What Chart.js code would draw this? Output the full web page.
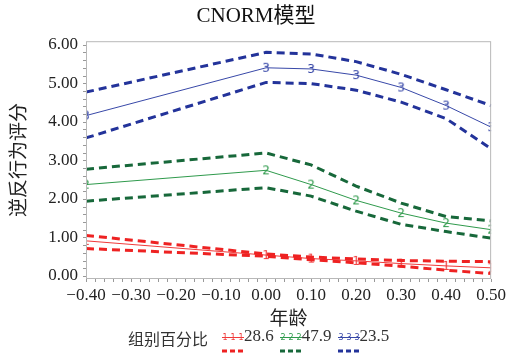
<!DOCTYPE html>
<html>
<head>
<meta charset="utf-8">
<script src="https://cdn.jsdelivr.net/npm/chart.js@4"></script>
<style>
  body { margin: 0; background: #fff; }
  #wrap { position: relative; width: 506px; height: 360px; }
  #legend { position: absolute; left: 128px; top: 326px; height: 30px;
    font-family: "Noto Sans CJK SC", sans-serif; font-size: 16px; color: #333;
    display: flex; align-items: flex-start; white-space: nowrap; }
  #legend .num { font-family: "Liberation Serif", serif; font-size: 17px; margin-right: 6px; }
  #legend canvas { margin-top: 3px; }
</style>
</head>
<body>
<div id="wrap">
  <canvas id="chart" width="506" height="360"></canvas>
  <div id="legend"></div>
</div>
<script>
const ages = [-0.4, 0, 0.1, 0.2, 0.3, 0.4, 0.5];
const xTicks = [-0.4, -0.3, -0.2, -0.1, 0, 0.1, 0.2, 0.3, 0.4, 0.5];
const yTicks = [0, 1, 2, 3, 4, 5, 6];
const groupNames = ["28.6", "47.9", "23.5"];

// group 1 (red)
const g1 = [0.91, 0.54, 0.45, 0.39, 0.32, 0.26, 0.21];
const g1Upper = [1.05, 0.57, 0.49, 0.44, 0.40, 0.38, 0.37];
const g1Lower = [0.71, 0.51, 0.42, 0.34, 0.25, 0.15, 0.06];
// group 2 (green)
const g2 = [2.37, 2.74, 2.37, 1.96, 1.63, 1.37, 1.20];
const g2Upper = [2.77, 3.19, 2.88, 2.33, 1.89, 1.54, 1.43];
const g2Lower = [1.94, 2.29, 2.07, 1.68, 1.34, 1.15, 0.98];
// group 3 (blue)
const g3 = [4.16, 5.40, 5.37, 5.21, 4.89, 4.42, 3.86];
const g3Upper = [4.77, 5.80, 5.76, 5.56, 5.23, 4.83, 4.42];
const g3Lower = [3.58, 5.02, 4.99, 4.82, 4.51, 4.08, 3.30];

const solidColors = ["#f03a3a", "#2f9a4c", "#3848a8"];
const dashColors = ["#ee2222", "#17683a", "#23339a"];

function pts(values) {
  return values.map((v, i) => ({ x: ages[i], y: v }));
}

function digitMarker(d, color) {
  const c = document.createElement("canvas");
  c.width = 10; c.height = 14;
  const g = c.getContext("2d");
  g.font = "12px 'DejaVu Sans'";
  g.fillStyle = color;
  g.textAlign = "center";
  g.textBaseline = "middle";
  g.fillText(d, 5, 7.5);
  return c;
}

const mains = [g1, g2, g3];
const uppers = [g1Upper, g2Upper, g3Upper];
const lowers = [g1Lower, g2Lower, g3Lower];
const datasets = [];
for (let k = 0; k < 3; k++) {
  [uppers[k], lowers[k]].forEach((arr) => {
    datasets.push({
      data: pts(arr), borderColor: dashColors[k], borderWidth: 3,
      borderDash: [8, 5], pointRadius: 0, tension: 0, fill: false
    });
  });
  datasets.push({
    data: pts(mains[k]), borderColor: solidColors[k], borderWidth: 1,
    pointStyle: digitMarker(String(k + 1), solidColors[k]), pointRadius: 5,
    tension: 0, fill: false
  });
}

const minus = (s) => s.replace("-", "\u2212");

// frame + minor ticks
const framePlugin = {
  id: "frame",
  afterDraw(chart) {
    const { ctx, chartArea: a, scales } = chart;
    ctx.save();
    ctx.strokeStyle = "#b8b8b8";
    ctx.lineWidth = 1;
    ctx.strokeRect(a.left + 0.5, a.top + 0.5, a.right - a.left - 1, a.bottom - a.top - 1);
    ctx.strokeStyle = "#999";
    ctx.beginPath();
    for (let v = -0.4; v <= 0.5001; v += 0.02) {
      const px = Math.round(scales.x.getPixelForValue(v)) + 0.5;
      ctx.moveTo(px, a.bottom); ctx.lineTo(px, a.bottom + 3);
    }
    for (let v = 0; v <= 6.001; v += 0.2) {
      const py = Math.round(scales.y.getPixelForValue(v)) + 0.5;
      ctx.moveTo(a.left, py); ctx.lineTo(a.left - 3, py);
    }
    ctx.stroke();
    ctx.restore();
  }
};

new Chart(document.getElementById("chart"), {
  type: "line",
  data: { datasets },
  plugins: [framePlugin],
  options: {
    responsive: false,
    animation: false,
    layout: { padding: { left: 6, right: 0, top: 0, bottom: 31 } },
    plugins: {
      legend: { display: false },
      tooltip: { enabled: false },
      title: {
        display: true, text: "CNORM模型", color: "#111",
        font: { family: "'Liberation Serif', 'Noto Sans CJK SC'", size: 21, weight: "normal" },
        padding: { top: 4, bottom: 12 }
      }
    },
    scales: {
      x: {
        type: "linear", min: -0.4, max: 0.5,
        afterBuildTicks: (s) => { s.ticks = xTicks.map((v) => ({ value: v })); },
        afterFit: (s) => { s.height = 50; },
        grid: { display: false, drawTicks: true, tickLength: 6, tickColor: "#888" },
        border: { display: false },
        ticks: {
          color: "#222", padding: 0, maxRotation: 0, autoSkip: false,
          font: { family: "'Liberation Serif'", size: 17 },
          callback: (v) => minus((Math.abs(v) < 1e-9 ? 0 : v).toFixed(2))
        },
        title: {
          display: true, text: "年龄", color: "#222", padding: { top: 2, bottom: 0 },
          font: { family: "'Noto Sans CJK SC'", size: 19 }
        }
      },
      y: {
        min: -0.08, max: 6.09,
        afterBuildTicks: (s) => { s.ticks = yTicks.map((v) => ({ value: v })); },
        afterFit: (s) => { s.width = 80; },
        grid: { display: false, drawTicks: true, tickLength: 6, tickColor: "#888" },
        border: { display: false },
        ticks: {
          color: "#222", padding: 2,
          font: { family: "'Liberation Serif'", size: 17 },
          callback: (v) => v.toFixed(2)
        },
        title: {
          display: true, text: "逆反行为评分", color: "#222", padding: { top: 0, bottom: 4 },
          font: { family: "'Noto Sans CJK SC'", size: 19 }
        }
      }
    }
  }
});

// legend: solid line with digit markers on top, dashed band line below
const legend = document.getElementById("legend");
const label = document.createElement("span");
label.textContent = "组别百分比";
label.style.marginRight = "14px";
legend.appendChild(label);
groupNames.forEach((name, k) => {
  const c = document.createElement("canvas");
  c.width = 22; c.height = 26;
  const g = c.getContext("2d");
  g.strokeStyle = solidColors[k]; g.lineWidth = 1;
  g.beginPath(); g.moveTo(0, 8.5); g.lineTo(22, 8.5); g.stroke();
  g.fillStyle = solidColors[k];
  g.font = "8px 'DejaVu Sans'"; g.textAlign = "center"; g.textBaseline = "middle";
  [3, 11, 19].forEach((x) => g.fillText(String(k + 1), x, 8.5));
  g.strokeStyle = dashColors[k]; g.lineWidth = 3; g.setLineDash([5, 3]);
  g.beginPath(); g.moveTo(0, 22); g.lineTo(22, 22); g.stroke();
  legend.appendChild(c);
  const n = document.createElement("span");
  n.className = "num";
  n.textContent = name;
  legend.appendChild(n);
});
</script>
</body>
</html>
